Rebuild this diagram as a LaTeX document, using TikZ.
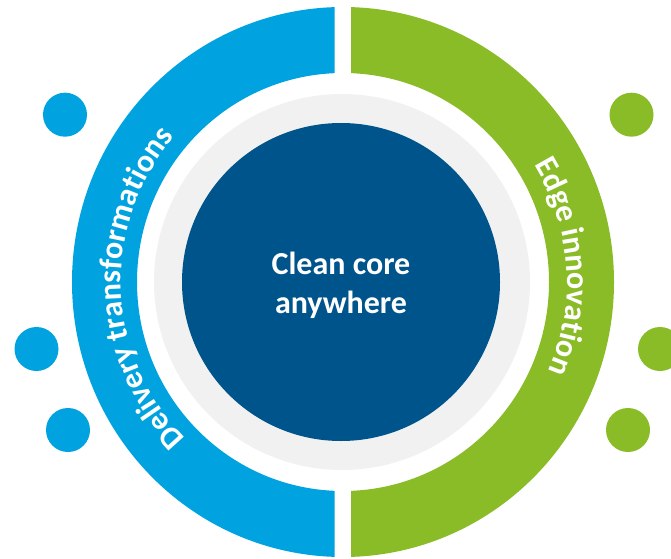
\documentclass[tikz,border=0pt]{standalone}
\usepackage{fontspec}
\setmainfont{Carlito}
\usetikzlibrary{decorations.text}
\definecolor{ringblue}{RGB}{0,163,224}
\definecolor{ringgreen}{RGB}{137,188,39}
\definecolor{coreblue}{RGB}{0,84,140}
\definecolor{halo}{RGB}{241,241,241}
\tikzset{
  dot/.style={circle, minimum size=44pt, inner sep=0pt},
  coretext/.style={text=white, anchor=base, inner sep=0pt, font=\bfseries\fontsize{32}{39}\selectfont},
}
\begin{document}
\begin{tikzpicture}[x=1pt,y=1pt]
\useasboundingbox (0,0) rectangle (671,558);
\coordinate (c) at (343,276);
% left (blue) half ring
\begin{scope}
  \clip (0,0) rectangle (334.5,558);
  \fill[ringblue, even odd rule] (c) ellipse[x radius=271, y radius=275] (c) ellipse[x radius=206, y radius=209];
\end{scope}
% right (green) half ring
\begin{scope}
  \clip (351,0) rectangle (671,558);
  \fill[ringgreen, even odd rule] (c) ellipse[x radius=271, y radius=275] (c) ellipse[x radius=206, y radius=209];
\end{scope}
% halo and core
\node[circle, fill=halo, minimum size=376pt, inner sep=0pt] (halo) at (342,276) {};
\node[circle, fill=coreblue, minimum size=318pt, inner sep=0pt] (core) at (341,276) {};
\node[coretext] (l1) at (341,284) {Clean core};
\node[coretext] (l2) at (341,245) {anywhere};
% dots
\node[dot, fill=ringblue] (b1) at (65,443.3) {};
\node[dot, fill=ringblue] (b2) at (36.5,209) {};
\node[dot, fill=ringblue] (b3) at (68,128) {};
\node[dot, fill=ringgreen] (g1) at (631.5,443.3) {};
\node[dot, fill=ringgreen] (g2) at (660,209) {};
\node[dot, fill=ringgreen] (g3) at (628,128) {};
% curved labels
\path[decorate, decoration={text along path, text align=center, text color=white,
  text={|\bfseries\fontsize{32}{38}\selectfont|Delivery transformations}}]
  (c) ++(252:222) arc[start angle=252, end angle=112, radius=222];
\path[decorate, decoration={text along path, text align=center, text color=white,
  text={|\bfseries\fontsize{32}{38}\selectfont|Edge innovation}}]
  (c) ++(64:224) arc[start angle=64, end angle=-56, radius=224];
\end{tikzpicture}
\end{document}
